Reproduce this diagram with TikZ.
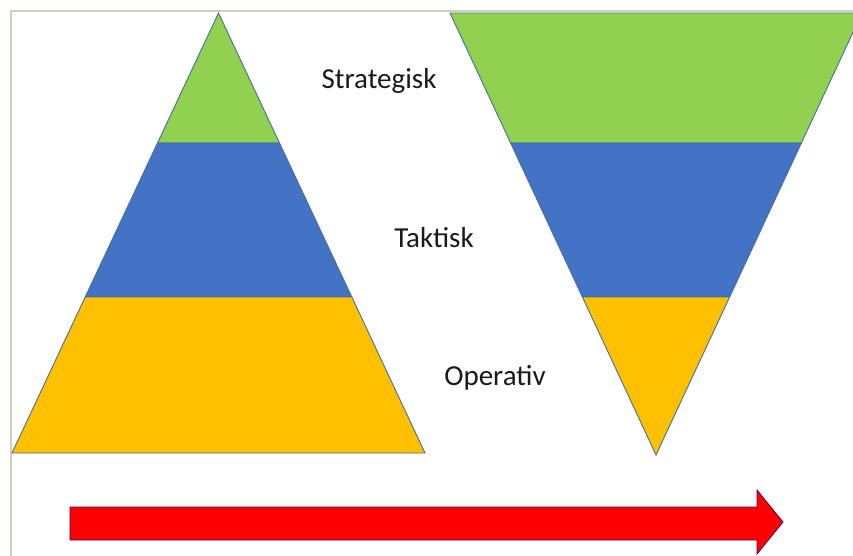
\documentclass[tikz,border=0pt]{standalone}
\usepackage{fontspec}
\setmainfont{Carlito}
\definecolor{pgreen}{HTML}{92D050}
\definecolor{pblue}{HTML}{4472C4}
\definecolor{pyellow}{HTML}{FFC000}
\definecolor{pedge}{HTML}{41719C}
\definecolor{pframe}{HTML}{D2CEBE}
\definecolor{ptext}{HTML}{1A1A1A}
\begin{document}
\begin{tikzpicture}[x=1pt,y=-1pt,
  band/.style={draw=pedge,line width=0.9pt,line join=miter},
  lbl/.style={font=\fontsize{29}{31}\selectfont,text=ptext,inner sep=0pt}]
\useasboundingbox (0,0) rectangle (853,555);
\clip (0,0) rectangle (853,555);
\fill[white] (0,0) rectangle (853,555);
% frame
\draw[pframe,line width=2.4pt] (11,560) -- (11,11) -- (860,11);
% left pyramid
\filldraw[band,fill=pgreen] (218.5,13) -- (279.5,143) -- (157.5,143) -- cycle;
\filldraw[band,fill=pblue] (157.5,143) -- (279.5,143) -- (351.8,297) -- (85.2,297) -- cycle;
\filldraw[band,fill=pyellow] (85.2,297) -- (351.8,297) -- (425,453) -- (12,453) -- cycle;
% right inverted pyramid
\filldraw[band,fill=pgreen] (450,13) -- (862,13) -- (801.4,143) -- (510.6,143) -- cycle;
\filldraw[band,fill=pblue] (510.6,143) -- (801.4,143) -- (729.6,297) -- (582.4,297) -- cycle;
\filldraw[band,fill=pyellow] (582.4,297) -- (729.6,297) -- (656,455) -- cycle;
% labels
\node[lbl] (strat) at (379,81) {Strategisk};
\node[lbl] (takt) at (434,238) {Taktisk};
\node[lbl] (oper) at (495,378) {Operativ};
% arrow
\filldraw[fill=red,draw=red!50!blue!70!black,line width=0.8pt]
  (70,507) -- (757,507) -- (757,490) -- (783,522) -- (757,554) -- (757,540) -- (70,540) -- cycle;
\end{tikzpicture}
\end{document}
